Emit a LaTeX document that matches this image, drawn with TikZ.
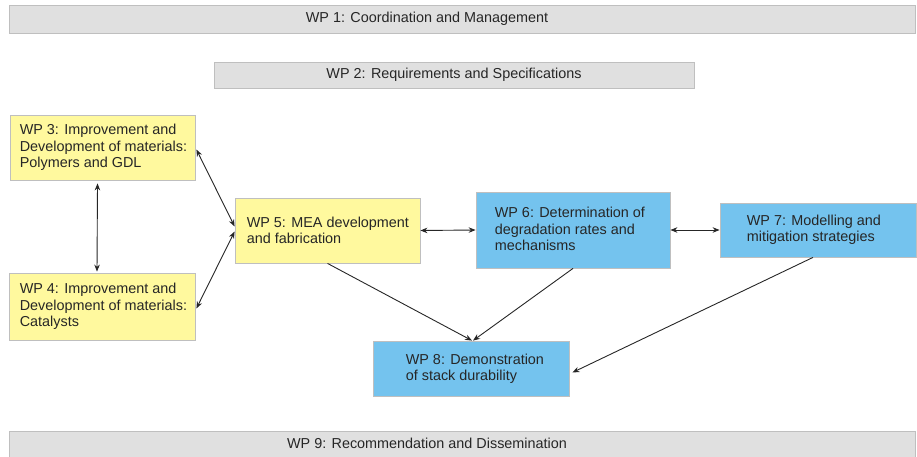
\documentclass[tikz,border=0pt]{standalone}
\usepackage{fontspec}
\setmainfont{Liberation Sans}
\usetikzlibrary{arrows.meta, positioning}

\definecolor{wpgray}{HTML}{E0E0E0}
\definecolor{wpyellow}{HTML}{FFF99E}
\definecolor{wpblue}{HTML}{74C3EE}

\tikzset{
	wpbox/.style={draw=gray!50, line width=0.8pt, inner sep=0pt},
	wptext/.style={anchor=west, align=left, inner sep=0pt, text=black!85,
		font=\fontsize{14.4}{16.3}\selectfont},
	wplink/.style={line width=0.9pt, draw=black!85, >={Stealth[length=7pt,width=5.5pt]}},
}

\begin{document}
\begin{tikzpicture}[x=1pt,y=-1pt]
		\useasboundingbox (0,0) rectangle (917,457);
		% gray bars
		\node [wpbox,fill=wpgray,minimum width=906pt,minimum height=28pt] (wp1) at (462,19) {};
		\node [wptext,anchor=center] (wp1t) at (427,19) {WP 1: Coordination and Management};
		\node [wpbox,fill=wpgray,minimum width=480pt,minimum height=26pt] (wp2) at (454,75) {};
		\node [wptext,anchor=center] (wp2t) at (454,75) {WP 2: Requirements and Specifications};
		\node [wpbox,fill=wpgray,minimum width=906pt,minimum height=30pt] (wp9) at (462,446) {};
		\node [wptext,anchor=center] (wp9t) at (427,443.5) {WP 9: Recommendation and Dissemination};
		% materials
		\node [wpbox,fill=wpyellow,minimum width=185pt,minimum height=65pt] (wp3) at (102.5,147.5) {};
		\node [wptext] (wp3t) at ([xshift=10pt]wp3.west) {WP 3: Improvement and\\Development of materials:\\Polymers and GDL};
		\node [wpbox,fill=wpyellow,minimum width=186pt,minimum height=67pt] (wp4) at (102,306.5) {};
		\node [wptext] (wp4t) at ([xshift=11pt]wp4.west) {WP 4: Improvement and\\Development of materials:\\Catalysts};
		\node [wpbox,fill=wpyellow,minimum width=185pt,minimum height=65pt] (wp5) at (327.5,230.5) {};
		\node [wptext] (wp5t) at ([xshift=12pt]wp5.west) {WP 5: MEA development\\and fabrication};
		% testing
		\node [wpbox,fill=wpblue,minimum width=194pt,minimum height=76pt] (wp6) at (573,230) {};
		\node [wptext] (wp6t) at ([xshift=19pt,yshift=1pt]wp6.west) {WP 6: Determination of\\degradation rates and\\mechanisms};
		\node [wpbox,fill=wpblue,minimum width=196pt,minimum height=54pt] (wp7) at (818,230) {};
		\node [wptext] (wp7t) at ([xshift=27pt]wp7.west) {WP 7: Modelling and\\mitigation strategies};
		\node [wpbox,fill=wpblue,minimum width=196pt,minimum height=55pt] (wp8) at (471,368.5) {};
		\node [wptext] (wp8t) at ([xshift=33pt]wp8.west) {WP 8: Demonstration\\of stack durability};
		% links
		\draw [wplink,<->] ([xshift=-5pt,yshift=-3pt]wp3.south) -- ([xshift=-5pt,yshift=1pt]wp4.north);
		\draw [wplink,<->] ([xshift=1pt,yshift=-2pt]wp3.east) -- ([yshift=4pt]wp5.west);
		\draw [wplink,<->] ([xshift=1pt,yshift=-2pt]wp4.east) -- ([yshift=-1pt]wp5.west);
		\draw [wplink,<->] (wp5.east) -- (wp6.west);
		\draw [wplink,<->] (wp6.west -| wp6.east) -- (wp7.west);
		\draw [wplink,->] (wp5.south) -- ([xshift=1pt]wp8.north);
		\draw [wplink,->] (wp6.south) -- ([xshift=2pt]wp8.north);
		\draw [wplink,->] ([xshift=-5pt]wp7.south) -- ([xshift=3pt,yshift=-4pt]wp8.east);
	\end{tikzpicture}
\end{document}
